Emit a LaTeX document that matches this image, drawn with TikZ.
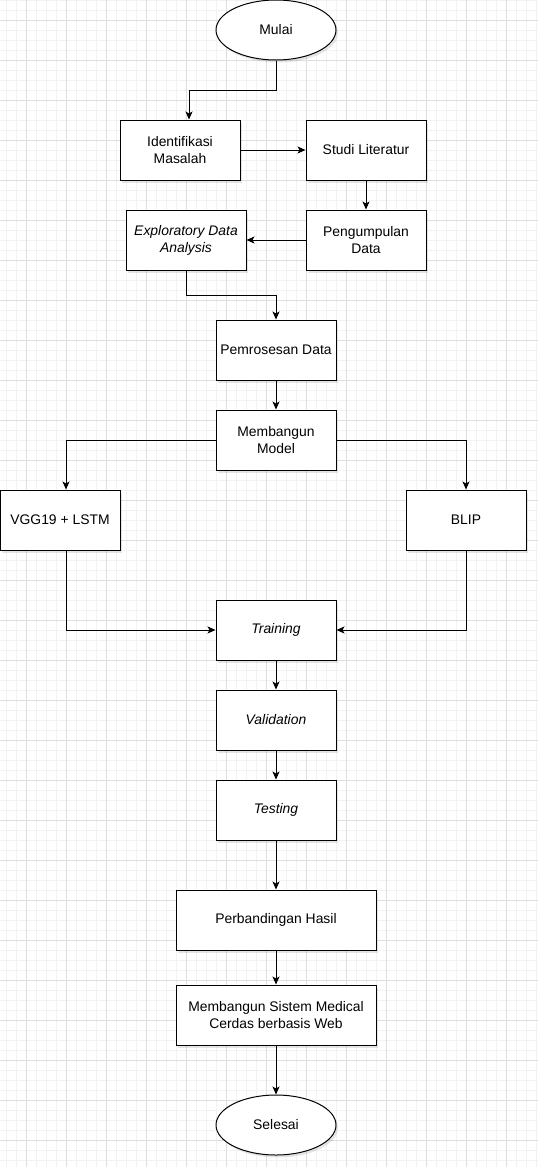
\documentclass[tikz,border=0pt]{standalone}
\usepackage{fontspec}
\setmainfont{Liberation Sans}
\usetikzlibrary{shapes.geometric,arrows.meta,shadows}

\begin{document}
\begin{tikzpicture}[x=1pt,y=-1pt,font=\fontsize{13.9}{17}\selectfont]
\tikzstyle{Block}=[draw, line width=1pt, fill=white, align=center, inner sep=0pt, minimum width=120pt, minimum height=60pt, drop shadow={opacity=0.2, shadow xshift=2pt, shadow yshift=-2.5pt}];
\tikzstyle{Wide}=[Block, minimum width=200pt];
\tikzstyle{Term}=[Block, ellipse];
\tikzstyle{Ital}=[font=\fontsize{13.9}{17}\selectfont\itshape];
\tikzstyle{seq} = [line width=1pt, -{Stealth[length=8pt,width=7pt,inset=2pt]}];
\tikzstyle{gridminor} = [line width=0.6pt, black!5];
\tikzstyle{gridmajor} = [line width=0.6pt, black!13];
\useasboundingbox (0,0) rectangle (538,1167);
\fill [white] (0,0) rectangle (538,1167);
% background grid
\foreach \gx in {0,...,53} \draw [gridminor] ({6.67+10*\gx},0) -- ({6.67+10*\gx},1167);
\foreach \gy in {0,...,116} \draw [gridminor] (0,{10*\gy}) -- (538,{10*\gy});
\foreach \gx in {0,...,13} \draw [gridmajor] ({26.67+40*\gx},0) -- ({26.67+40*\gx},1167);
\foreach \gy in {0,...,28} \draw [gridmajor] (0,{20+40*\gy}) -- (538,{20+40*\gy});
% boxes
\node [Term] (mulai) at (276,30) {Mulai};
\node [Block] (ident) at (180,150) {Identifikasi\\Masalah};
\node [Block] (studi) at (366,150) {Studi Literatur};
\node [Block] (kumpul) at (366,240) {Pengumpulan\\Data};
\node [Block,Ital] (eda) at (186,240) {Exploratory Data\\Analysis};
\node [Block] (proses) at (276,350) {Pemrosesan Data};
\node [Block] (model) at (276,440) {Membangun\\Model};
\node [Block] (vgg) at (60,520) {VGG19 + LSTM};
\node [Block] (blip) at (466,520) {BLIP};
\node [Block,Ital] (train) at (276,630) {Training};
\node [Block,Ital] (valid) at (276,720) {Validation};
\node [Block,Ital] (test) at (276,810) {Testing};
\node [Wide] (banding) at (276,920) {Perbandingan Hasil};
\node [Wide] (sistem) at (276,1015) {Membangun Sistem Medical\\Cerdas berbasis Web};
\node [Term] (selesai) at (276,1125) {Selesai};
% connectors
\draw [seq] (mulai.south) -- ++(0,30) -| ([xshift=9pt]ident.north);
\draw [seq] (ident) -- (studi);
\draw [seq] (studi) -- (kumpul);
\draw [seq] (kumpul) -- (eda);
\draw [seq] (eda.south) -- ++(0,25) -| (proses.north);
\draw [seq] (proses) -- (model);
\draw [seq] (model.west) -| ([xshift=6pt]vgg.north);
\draw [seq] (model.east) -| (blip.north);
\draw [seq] ([xshift=6pt]vgg.south) |- (train.west);
\draw [seq] (blip.south) |- (train.east);
\draw [seq] (train) -- (valid);
\draw [seq] (valid) -- (test);
\draw [seq] (test) -- (banding);
\draw [seq] (banding) -- (sistem);
\draw [seq] (sistem) -- (selesai);
\end{tikzpicture}
\end{document}
